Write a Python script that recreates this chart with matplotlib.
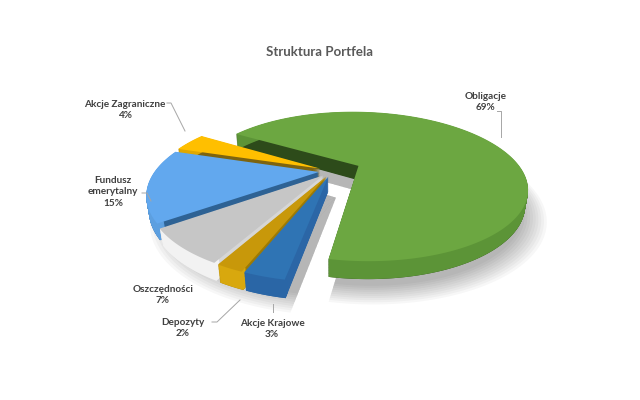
import numpy as np
import matplotlib
matplotlib.use("Agg")
import matplotlib.pyplot as plt
from matplotlib.transforms import Transform, Affine2D
from matplotlib.path import Path

# dane: udzialy w portfelu (%)
kategorie = ["Obligacje", "Akcje Krajowe", "Depozyty", "Oszczędności",
             "Fundusz\nemerytalny", "Akcje Zagraniczne"]
wartosci = [69, 3, 2, 7, 15, 4]
wysuniecie = [0.18, 0.08, 0.08, 0.08, 0.08, 0.08]
wysuniecie_cien = [0.18, 0, 0, 0, 0, 0]

kolory = ["#6CA741", "#2F74B4", "#C8980A", "#C6C6C6", "#62A8EE", "#FFBF00"]
sciany = ["#2D4B1A", "#2B66A6", "#9C7A05", "#D6D6D6", "#2E6294", "#7D6410"]
obrzeza = ["#5C9437", "#2A66A6", "#D8A80E", "#F2F2F2", "#5C9FE0", "#E0A800"]

# kamera (widok 3D)
ELEW = np.radians(26)
ODL = 3.2
OGN = 525
KAM_X = 0.0
SRODEK_X = 332 + OGN * KAM_X / ODL
SRODEK_Y = 171
GRUBOSC = 0.10
START = 148


class Widok(Transform):
    """rzut perspektywiczny plaszczyzny kola na ekran (w pikselach)"""
    input_dims = 2
    output_dims = 2
    has_inverse = False

    def __init__(self, z=0.0):
        super().__init__()
        self.z = z

    def transform_non_affine(self, values):
        xy = np.asarray(values, dtype=float).reshape(-1, 2)
        x = xy[:, 0] - KAM_X
        y = xy[:, 1]
        v = y * np.sin(ELEW) + self.z * np.cos(ELEW)
        d = ODL + y * np.cos(ELEW) - self.z * np.sin(ELEW)
        return np.column_stack([SRODEK_X + OGN * x / d, SRODEK_Y - OGN * v / d])

    def transform_path_non_affine(self, path):
        pts = []
        for bez, code in path.iter_bezier():
            if code == Path.MOVETO:
                pts.append(np.atleast_2d(bez.control_points))
            elif code == Path.LINETO or code == Path.CLOSEPOLY:
                pts.append(bez(np.linspace(0, 1, 8)))
            else:
                pts.append(bez(np.linspace(0, 1, 30)))
        verts = np.vstack(pts)
        return Path(self.transform_non_affine(verts), closed=True)


def kolo(explode=wysuniecie, **kw):
    return ax.pie(wartosci, explode=explode, startangle=START,
                  counterclock=False, **kw)[0]


fig = plt.figure(figsize=(6.4, 4.0), dpi=100)
ax = fig.add_axes([0, 0, 1, 1])

# kolejnosc rysowania: od tylu do przodu
kolejnosc = [0, 5, 4, 3, 2, 1]

# cien pod wykresem
for k in range(10):
    for w in kolo(explode=wysuniecie_cien, radius=0.96 + 0.015 * k,
                  colors=["#000000"] * len(wartosci)):
        w.set_alpha(0.03)
        w.set_zorder(0)
        w.set_transform(Widok(-GRUBOSC) + Affine2D().translate(4, 12) + ax.transData)

# boki (warstwy): najpierw sciany, potem obrzeze, na koniec wierzch
warstwy = 24
for i in range(warstwy):
    z = -GRUBOSC + GRUBOSC * i / warstwy
    for j, w in enumerate(kolo(colors=sciany)):
        w.set_zorder(10 + 200 * kolejnosc.index(j) + i)
        w.set_transform(Widok(z) + ax.transData)
    for j, w in enumerate(kolo(colors=obrzeza, wedgeprops=dict(width=0.035))):
        w.set_zorder(60 + 200 * kolejnosc.index(j) + i)
        w.set_transform(Widok(z) + ax.transData)

for j, w in enumerate(kolo(colors=kolory)):
    w.set_zorder(150 + 200 * kolejnosc.index(j))
    w.set_transform(Widok(0) + ax.transData)

ax.set_aspect("auto")
ax.set_xlim(0, 640)
ax.set_ylim(400, 0)
ax.axis("off")

plt.rcParams["font.family"] = ["Lato", "DejaVu Sans"]
styl = dict(ha="center", va="center", fontsize=7.2, fontweight="bold",
            color="#404040", zorder=2000, linespacing=1.35)
suma = sum(wartosci)
proc = [f"{v / suma * 100:.0f}%" for v in wartosci]

ax.text(320, 52, "Struktura Portfela", ha="center", va="center", fontsize=9.5,
        fontweight="bold", color="#595959")
ax.text(486, 102, kategorie[0] + "\n" + proc[0], **styl)
ax.text(272, 329, kategorie[1] + "\n" + proc[1], **styl)
ax.text(183, 328, kategorie[2] + "\n" + proc[2], **styl)
ax.text(163, 295, kategorie[3] + "\n" + proc[3], **styl)
ax.text(113, 192, kategorie[4] + "\n" + proc[4], **styl)
ax.text(125, 110, kategorie[5] + "\n" + proc[5], **styl)

lin = dict(color="#A6A6A6", lw=0.7, zorder=1500)
ax.plot([497, 501, 501], [111, 111, 137], **lin)
ax.plot([273, 273], [304, 312], **lin)
ax.plot([212, 217, 240], [322, 322, 300], **lin)
ax.plot([142, 147, 151], [193, 193, 201], **lin)
ax.plot([167, 171, 185], [103, 103, 131], **lin)

fig.savefig("out.png", dpi=100)
